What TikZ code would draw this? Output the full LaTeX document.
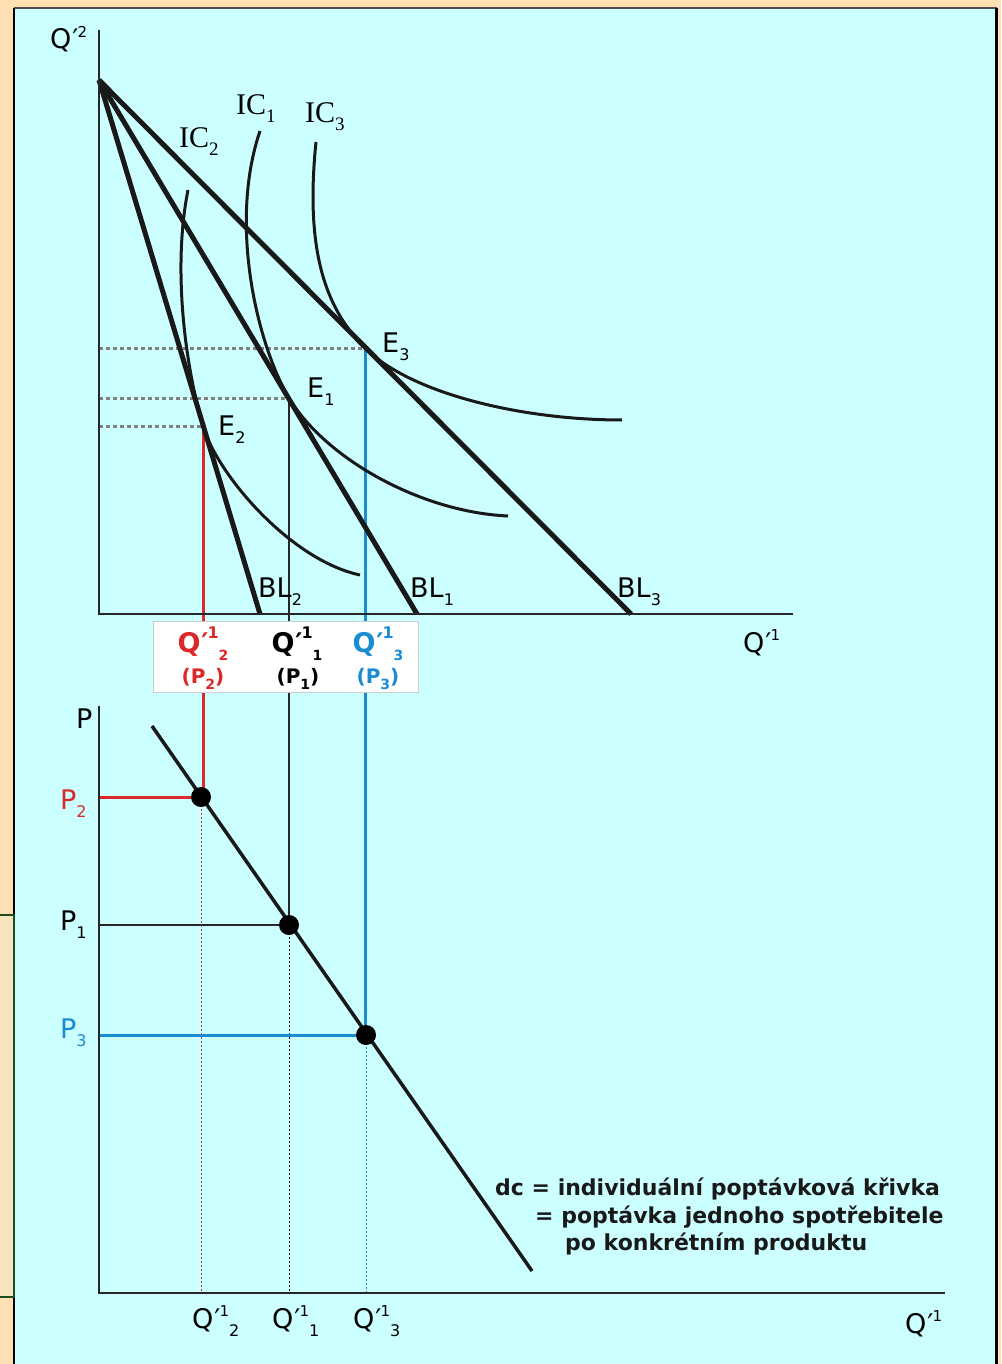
\documentclass[tikz,border=0pt]{standalone}
\usepackage{fontspec}
\setmainfont{DejaVu Sans}
\newfontfamily\icfont{Liberation Serif}
\definecolor{peach}{HTML}{FFE0B2}
\definecolor{cyanbg}{HTML}{CCFFFF}
\definecolor{tanbox}{HTML}{F5E4BE}
\definecolor{dgreen}{HTML}{1E4B1E}
\definecolor{myred}{HTML}{DC2828}
\definecolor{myblue}{HTML}{1A8CD2}
\definecolor{dotgray}{HTML}{808080}
\newcommand{\lsub}[1]{\raisebox{-0.3em}{\fontsize{16}{16}\selectfont #1}}
\newcommand{\icsub}[1]{\raisebox{-0.25em}{\fontsize{19}{19}\selectfont #1}}
\newcommand{\lsup}[1]{\raisebox{0.42em}{\fontsize{15}{15}\selectfont #1}}
\newcommand{\qp}[1]{Q\kern1pt′\kern-1pt\lsup{#1}}
\newcommand{\bsub}[1]{\raisebox{-0.3em}{\fontsize{14}{14}\selectfont\bfseries #1}}
\newcommand{\bsup}[1]{\raisebox{0.5em}{\fontsize{16}{16}\selectfont\bfseries #1}}
\begin{document}
\begin{tikzpicture}[x=1pt,y=-1pt,
  lbl/.style={inner sep=0pt,anchor=base west,font=\fontsize{27}{30}\selectfont},
  iclbl/.style={inner sep=0pt,anchor=base west,font=\fontsize{30}{32}\selectfont\icfont},
  blbl/.style={inner sep=0pt,anchor=base,font=\fontsize{27}{30}\selectfont\bfseries},
  plbl/.style={inner sep=0pt,anchor=base,font=\fontsize{20}{22}\selectfont\bfseries},
  axis/.style={line width=2.5pt,draw=black!85},
  budget/.style={line width=5pt,draw=black!90},
  icurve/.style={line width=3pt,draw=black!90},
  guide/.style={line width=3pt,draw=dotgray,dash pattern=on 4pt off 3pt},
  drop/.style={line width=3pt},
  thindot/.style={line width=1pt,dash pattern=on 2pt off 2pt},
  dot/.style={fill=black}]
\useasboundingbox (0,0) rectangle (1001,1364);
% backgrounds
\fill[peach] (0,0) rectangle (1001,1364);
\fill[cyanbg] (14,8) rectangle (997,1370);
\draw[line width=1.5pt,black!70] (14,8) -- (997,8);
\draw[line width=2pt,black] (14,8) -- (14,1370);
\draw[line width=3pt,black] (996.5,8) -- (996.5,1370);
\draw[fill=tanbox,draw=dgreen,line width=2.5pt] (-5,915) rectangle (14,1297);

% coordinates
\coordinate (apex) at (99,80);
\coordinate (bl2) at (260,614);
\coordinate (bl1) at (417,614);
\coordinate (bl3) at (631,614);
\coordinate (e1) at (289,398);
\coordinate (e2) at (203,426);
\coordinate (e3) at (365,348);
\coordinate (y1) at (99,398);
\coordinate (y2) at (99,426);
\coordinate (y3) at (99,348);
\coordinate (d2) at (201,797);
\coordinate (d1) at (289,925);
\coordinate (d3) at (366,1035);
\coordinate (p2) at (99,797);
\coordinate (p1) at (99,925);
\coordinate (p3) at (99,1035);
\coordinate (b2) at (201,1293);
\coordinate (b1) at (289,1293);
\coordinate (b3) at (366,1293);

% guides
\draw[guide] (y3) -- (e3);
\draw[guide] (y1) -- (e1);
\draw[guide] (y2) -- (e2);

% drops
\draw[drop,myred] (e2) -- (203,797);
\draw[drop,black!85,line width=2.5pt] (e1) -- (d1);
\draw[drop,myblue] (e3) -- (365,1035);
\draw[thindot,myred] (d2) -- (b2);
\draw[thindot,black] (d1) -- (b1);
\draw[thindot,myblue] (d3) -- (b3);
\draw[drop,myred] (p2) -- (d2);
\draw[drop,black!85,line width=2.5pt] (p1) -- (d1);
\draw[drop,myblue] (p3) -- (d3);

% indifference curves
\draw[icurve] (316,142) .. controls (305,250) and (325,308) .. (e3) .. controls (410,393) and (520,420) .. (622,420);
\draw[icurve] (260,131) .. controls (228,225) and (258,346) .. (e1) .. controls (325,458) and (420,512) .. (508,516);
\draw[icurve] (188,190) .. controls (172,270) and (186,369) .. (e2) .. controls (217,474) and (290,560) .. (360,575);

% budget lines
\draw[budget] (apex) -- (bl2);
\draw[budget] (apex) -- (bl1);
\draw[budget] (apex) -- (bl3);

% axes top
\draw[axis] (99,30) -- (99,614) -- (793,614);
% axes bottom
\draw[axis] (99,706) -- (99,1293) -- (945,1293);

% demand line
\draw[line width=3.5pt,black!90] (152,726) -- (532,1271);
\fill[dot] (d2) circle (10pt);
\fill[dot] (d1) circle (10pt);
\fill[dot] (d3) circle (10pt);

% white label box
\draw[fill=white,draw=black!20,line width=1pt] (153,621) rectangle (418,692);
\node[blbl,text=myred] (qa) at (203,652) {Q\kern1pt′\kern-1pt\bsup{1}\bsub{2}};
\node[blbl,text=black] (qb) at (297,652) {Q\kern1pt′\kern-1pt\bsup{1}\bsub{1}};
\node[blbl,text=myblue] (qc) at (378,652) {Q\kern1pt′\kern-1pt\bsup{1}\bsub{3}};
\node[plbl,text=myred] (pa) at (203,683) {(P\bsub{2})};
\node[plbl,text=black] (pb) at (298,683) {(P\bsub{1})};
\node[plbl,text=myblue] (pc) at (378,683) {(P\bsub{3})};

% labels top
\node[lbl] (qy) at (50,49) {\qp{2}};
\node[lbl] (qx) at (743,652) {\qp{1}};
\node[iclbl] (ic1) at (236,115) {IC\icsub{1}};
\node[iclbl] (ic3) at (305,123) {IC\icsub{3}};
\node[iclbl] (ic2) at (179,148) {IC\icsub{2}};
\node[lbl] (le3) at (382,352) {E\lsub{3}};
\node[lbl] (le1) at (307,397) {E\lsub{1}};
\node[lbl] (le2) at (218,435) {E\lsub{2}};
\node[lbl] (lb2) at (258,597) {BL\lsub{2}};
\node[lbl] (lb1) at (410,597) {BL\lsub{1}};
\node[lbl] (lb3) at (617,597) {BL\lsub{3}};

% labels bottom
\node[lbl] (lp) at (76,728) {P};
\node[lbl,text=myred] (lp2) at (60,809) {P\lsub{2}};
\node[lbl] (lp1) at (60,930) {P\lsub{1}};
\node[lbl,text=myblue] (lp3) at (60,1038) {P\lsub{3}};
\node[lbl] (lq2) at (192,1328) {\qp{1}\lsub{2}};
\node[lbl] (lq1) at (272,1328) {\qp{1}\lsub{1}};
\node[lbl] (lq3) at (353,1328) {\qp{1}\lsub{3}};
\node[lbl] (lqx) at (905,1333) {\qp{1}};

\node[inner sep=0pt,anchor=base west,font=\fontsize{22}{24}\selectfont\bfseries,text=black!90] (t1) at (495,1195) {dc = individuální poptávková křivka};
\node[inner sep=0pt,anchor=base west,font=\fontsize{22}{24}\selectfont\bfseries,text=black!90] (t2) at (535,1223) {= poptávka jednoho spotřebitele};
\node[inner sep=0pt,anchor=base west,font=\fontsize{22}{24}\selectfont\bfseries,text=black!90] (t3) at (565,1250) {po konkrétním produktu};
\end{tikzpicture}
\end{document}
